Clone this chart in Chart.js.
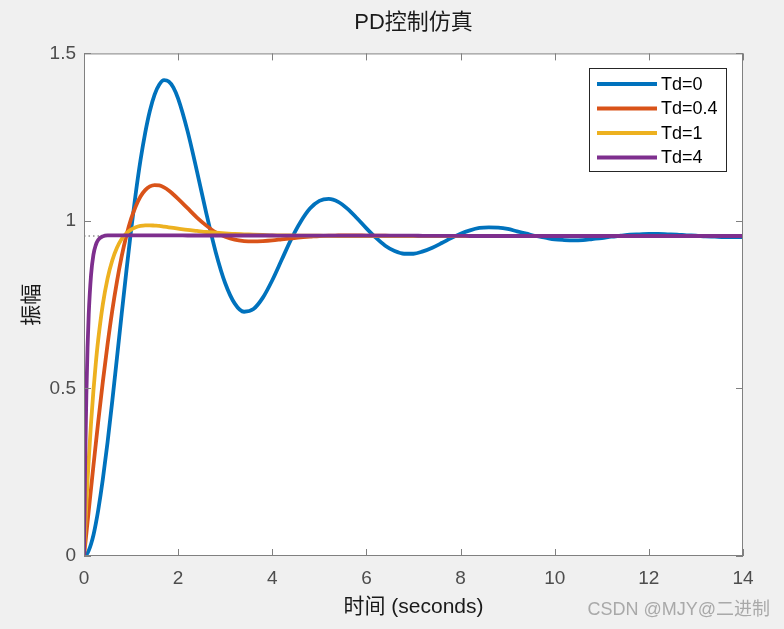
<!DOCTYPE html>
<html>
<head>
<meta charset="utf-8">
<script src="https://cdn.jsdelivr.net/npm/chart.js@4.4.1/dist/chart.umd.min.js"></script>
<style>
html,body{margin:0;padding:0;background:#f0f0f0;}
canvas{display:block;}
</style>
</head>
<body>
<canvas id="c" width="784" height="629"></canvas>
<script>
// ---- data ----
const time = [0,0.025,0.05,0.075,0.1,0.15,0.2,0.25,0.3,
  0.4,0.5,0.6,0.7,0.8,0.9,1.0,1.1,1.2,1.3,1.4,1.5,1.6,1.7,1.8,1.9,2.0,
  2.2,2.4,2.6,2.8,3.0,3.2,3.4,3.6,3.8,4.0,4.2,4.4,4.6,4.8,5.0,5.2,5.4,5.6,5.8,6.0,
  6.2,6.4,6.6,6.8,7.0,7.2,7.4,7.6,7.8,8.0,8.2,8.4,8.6,8.8,9.0,9.2,9.4,9.6,9.8,10.0,
  10.2,10.4,10.6,10.8,11.0,11.2,11.4,11.6,11.8,12.0,12.2,12.4,12.6,12.8,13.0,13.2,13.4,13.6,13.8,14.0];

const seriesNames = ['Td=0','Td=0.4','Td=1','Td=4'];

const td0 = [0,0.001,0.004,0.009,0.016,0.036,0.062,0.096,0.135,
  0.229,0.339,0.462,0.591,0.722,0.850,0.972,1.083,1.181,1.263,1.329,1.377,1.407,1.420,1.416,1.398,1.365,
  1.268,1.148,1.022,0.906,0.814,0.754,0.729,0.737,0.771,0.823,0.884,0.945,0.997,1.037,1.060,1.066,1.057,1.036,1.008,0.978,
  0.950,0.926,0.910,0.902,0.902,0.909,0.920,0.934,0.949,0.962,0.972,0.979,0.981,0.980,0.976,0.969,0.962,0.955,0.950,0.945,
  0.943,0.942,0.943,0.946,0.949,0.953,0.956,0.959,0.960,0.961,0.961,0.960,0.959,0.957,0.956,0.954,0.953,0.952,0.952,0.952];

const td04 = [0,0.033,0.067,0.101,0.135,0.202,0.269,0.334,0.398,
  0.520,0.631,0.732,0.819,0.894,0.956,1.006,1.044,1.073,1.092,1.103,1.107,1.106,1.100,1.091,1.079,1.066,
  1.038,1.010,0.986,0.966,0.953,0.944,0.940,0.939,0.940,0.942,0.945,0.948,0.951,0.953,0.955,0.956,0.9565,0.957,0.957,0.956,
  0.956,0.956,0.955,0.955,0.955,0.955,0.955,0.955,0.955,0.955,0.955,0.955,0.955,0.955,0.955,0.955,0.955,0.955,0.955,0.955,
  0.955,0.955,0.955,0.955,0.955,0.955,0.955,0.955,0.955,0.955,0.955,0.955,0.955,0.955,0.955,0.955,0.955,0.955,0.955,0.955];

const td1 = [0,0.081,0.155,0.223,0.286,0.398,0.493,0.574,0.643,
  0.751,0.828,0.882,0.920,0.946,0.963,0.974,0.981,0.985,0.987,0.987,0.986,0.985,0.983,0.981,0.979,0.977,
  0.973,0.970,0.967,0.965,0.963,0.961,0.960,0.959,0.958,0.957,0.957,0.9565,0.956,0.956,0.956,0.9555,0.955,0.955,0.955,0.955,
  0.955,0.955,0.955,0.955,0.955,0.955,0.955,0.955,0.955,0.955,0.955,0.955,0.955,0.955,0.955,0.955,0.955,0.955,0.955,0.955,
  0.955,0.955,0.955,0.955,0.955,0.955,0.955,0.955,0.955,0.955,0.955,0.955,0.955,0.955,0.955,0.955,0.955,0.955,0.955,0.955];

const td4 = [0,0.281,0.480,0.621,0.720,0.839,0.899,0.928,0.943,
  0.954,0.957,0.957,0.957,0.957,0.957,0.957,0.957,0.957,0.957,0.957,0.957,0.957,0.957,0.957,0.957,0.957,
  0.9565,0.9565,0.9565,0.9565,0.9565,0.9565,0.9565,0.9565,0.9565,0.9565,0.956,0.956,0.956,0.956,0.956,0.956,0.956,0.956,0.956,0.956,
  0.956,0.956,0.956,0.956,0.956,0.9555,0.9555,0.9555,0.9555,0.9555,0.955,0.955,0.955,0.955,0.955,0.955,0.955,0.955,0.955,0.955,
  0.955,0.955,0.955,0.955,0.955,0.955,0.955,0.955,0.955,0.955,0.955,0.955,0.955,0.955,0.955,0.955,0.955,0.955,0.955,0.955];

const steadyState = 0.955;
const xTickValues = [0,2,4,6,8,10,12,14];
const xTickLabels = ['0','2','4','6','8','10','12','14'];
const yTickValues = [0,0.5,1,1.5];
const yTickLabels = ['0','0.5','1','1.5'];
const titleText = 'PD控制仿真';
const xTitle = '时间 (seconds)';
const yTitle = '振幅';
const watermark = 'CSDN @MJY@二进制';

// ---- styling ----
const colors = ['#0072BD','#D95319','#EDB120','#7E2F8E'];
const FONT = '"Liberation Sans", Arial, "Noto Sans CJK SC", sans-serif';
const CJKFONT = '"Liberation Sans", "Noto Sans CJK SC", sans-serif';

function pts(vals){ return vals.map((v,i)=>({x:time[i], y:v})); }
const allSeries = [td0, td04, td1, td4];

const datasets = allSeries.map((s,i)=>({
  label: seriesNames[i],
  data: pts(s),
  borderColor: colors[i],
  backgroundColor: colors[i],
  borderWidth: 3.8,
  pointRadius: 0,
  fill: false,
  cubicInterpolationMode: 'monotone',
  order: 4 - i
}));
datasets.push({
  label: 'steady',
  data: [{x:xTickValues[0], y:steadyState},{x:xTickValues[xTickValues.length-1], y:steadyState}],
  borderColor: '#555555',
  borderWidth: 1,
  borderDash: [1.5,3],
  pointRadius: 0,
  order: 10
});

const framePlugin = {
  id: 'frame',
  beforeDraw(chart){
    const {ctx, chartArea:a} = chart;
    ctx.save();
    ctx.fillStyle = '#f0f0f0';
    ctx.fillRect(0,0,chart.width,chart.height);
    ctx.fillStyle = '#ffffff';
    ctx.fillRect(a.left, a.top, a.right-a.left, a.bottom-a.top);
    ctx.restore();
  },
  afterDraw(chart){
    const {ctx, chartArea:a, scales} = chart;
    ctx.save();
    ctx.strokeStyle = '#808080';
    ctx.lineWidth = 1;
    ctx.strokeRect(a.left+0.5, a.top+0.5, a.right-a.left-1, a.bottom-a.top-1);
    const tl = 7;
    ctx.beginPath();
    xTickValues.forEach(v=>{
      const x = Math.round(scales.x.getPixelForValue(v))+0.5;
      ctx.moveTo(x, a.bottom); ctx.lineTo(x, a.bottom-tl);
      ctx.moveTo(x, a.top); ctx.lineTo(x, a.top+tl);
    });
    yTickValues.forEach(v=>{
      const y = Math.round(scales.y.getPixelForValue(v))+0.5;
      ctx.moveTo(a.left, y); ctx.lineTo(a.left+tl, y);
      ctx.moveTo(a.right, y); ctx.lineTo(a.right-tl, y);
    });
    ctx.stroke();

    // legend
    const lx = 589, ly = 68, lw = 137, lh = 103;
    ctx.fillStyle = '#ffffff';
    ctx.fillRect(lx, ly, lw, lh);
    ctx.strokeStyle = '#262626';
    ctx.lineWidth = 1;
    ctx.strokeRect(lx+0.5, ly+0.5, lw, lh);
    ctx.font = '18px ' + FONT;
    ctx.textBaseline = 'middle';
    ctx.textAlign = 'left';
    const rows = [84, 108.5, 133, 157.5];
    seriesNames.forEach((n,i)=>{
      ctx.strokeStyle = colors[i];
      ctx.lineWidth = 3.8;
      ctx.beginPath();
      ctx.moveTo(597, rows[i]); ctx.lineTo(657, rows[i]);
      ctx.stroke();
      ctx.fillStyle = '#000000';
      ctx.fillText(n, 661, rows[i]+1);
    });

    // watermark
    ctx.font = '18px ' + CJKFONT;
    ctx.fillStyle = '#a9a9a9';
    ctx.textAlign = 'right';
    ctx.textBaseline = 'middle';
    ctx.fillText(watermark, 770, 610);
    ctx.restore();
  }
};

new Chart(document.getElementById('c'), {
  type: 'line',
  data: { datasets },
  options: {
    responsive: false,
    animation: false,
    devicePixelRatio: 1,
    layout: { padding: { left: 0, right: 41, top: 0, bottom: 0 } },
    plugins: {
      legend: { display: false },
      tooltip: { enabled: false },
      title: {
        display: true, text: titleText, color: '#1a1a1a', fullSize: false,
        font: { family: CJKFONT, size: 22, weight: 'normal' },
        padding: { top: 10, bottom: 17 }
      }
    },
    scales: {
      x: {
        type: 'linear', min: 0, max: 14,
        afterBuildTicks(s){ s.ticks = xTickValues.map(v=>({value:v})); },
        ticks: {
          callback: (v)=> xTickLabels[xTickValues.indexOf(v)],
          color: '#4d4d4d', font: { family: FONT, size: 19 }, padding: 11, maxRotation: 0, autoSkip: false
        },
        grid: { display: false, drawTicks: false },
        border: { display: false },
        title: { display: true, text: xTitle, color: '#1a1a1a', font: { family: CJKFONT, size: 21 }, padding: { top: 0, bottom: 9 } },
        afterFit(s){ s.height = 73; }
      },
      y: {
        type: 'linear', min: 0, max: 1.5,
        afterBuildTicks(s){ s.ticks = yTickValues.map(v=>({value:v})); },
        ticks: {
          callback: (v)=> yTickLabels[yTickValues.indexOf(v)],
          color: '#4d4d4d', font: { family: FONT, size: 19 }, padding: 8, autoSkip: false
        },
        grid: { display: false, drawTicks: false },
        border: { display: false },
        title: { display: true, text: yTitle, color: '#1a1a1a', font: { family: CJKFONT, size: 21 }, padding: { top: 20, bottom: 0 } },
        afterFit(s){ s.width = 84; }
      }
    }
  },
  plugins: [framePlugin]
});
</script>
</body>
</html>
